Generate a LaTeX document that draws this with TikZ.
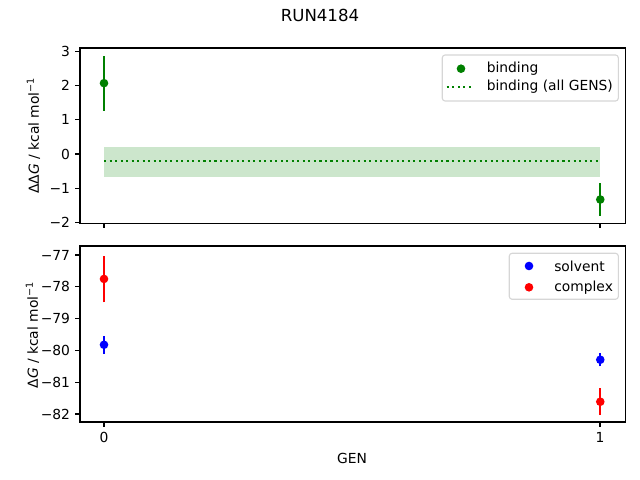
\documentclass[tikz,border=0pt]{standalone}
\usepackage{fontspec}
\setmainfont{DejaVu Sans}
\usetikzlibrary{positioning}
\definecolor{mplGreen}{HTML}{008000}
\definecolor{mplBlue}{HTML}{0000FF}
\definecolor{mplRed}{HTML}{FF0000}
\definecolor{bandGreen}{HTML}{CCE6CC}
\definecolor{legendEdge}{HTML}{D6D6D6}
\tikzset{
    axisFrame/.style={draw=black, line width=0.8bp},
    tickMark/.style={line width=0.8bp},
    tickLabel/.style={font=\fontsize{10}{12}\selectfont, inner sep=0pt},
    axisLabel/.style={font=\fontsize{10}{12}\selectfont, inner sep=0pt},
    titleText/.style={font=\fontsize{12}{14}\selectfont, inner sep=0pt},
    errBar/.style={line width=1.5bp},
    dataDot/.style={circle, inner sep=0pt, minimum size=6.2bp},
    allGens/.style={mplGreen, line width=1.5bp, dash pattern=on 1.5bp off 2.475bp},
    legendBox/.style={draw=legendEdge, fill=white, line width=0.8bp, rounded corners=2bp},
    legendText/.style={font=\fontsize{10}{12}\selectfont, anchor=west, inner sep=0pt},
}
\newcommand{\errPoint}[5]{
    \draw[errBar, #2] (#3,{#4-#5}) -- (#3,{#4+#5});
    \node[dataDot, fill=#2] (#1) at (#3,#4) {};
}
\newcommand{\yTick}[3]{
    \draw[tickMark] (80,#2) -- ++(-3.5bp,0bp);
    \node[tickLabel, anchor=east] (#1) at (70.3,#2) {#3};
}
\newcommand{\xTick}[2]{
    \draw[tickMark] (#1,#2) -- ++(0bp,-3.5bp);
}

\begin{document}
\begin{tikzpicture}[x=0.01in, y=-0.01in]
    \useasboundingbox (0,0) rectangle (640,480);

    \node[titleText] (title) at (320,15.5) {RUN4184};

    % upper panel
    \begin{scope}[shift={(104,154)}, x=4.96in, y=0.342in]
        \fill[bandGreen] (0,-0.66) rectangle (1,0.2);
        \draw[allGens] (0,-0.2) -- (1,-0.2);
        \errPoint{bindA}{mplGreen}{0}{2.07}{0.8}
        \errPoint{bindB}{mplGreen}{1}{-1.33}{0.47}
    \end{scope}
    \draw[axisFrame] (80,48) rectangle (625.5,223.3);
    \yTick{ytA}{51.4}{3}
    \yTick{ytB}{85.6}{2}
    \yTick{ytC}{119.8}{1}
    \yTick{ytD}{154}{0}
    \yTick{ytE}{188.2}{−1}
    \yTick{ytF}{222.4}{−2}
    \xTick{104}{223.3}
    \xTick{600}{223.3}
    \node[axisLabel, rotate=90] (yLabTop) at (33.5,135.5) {ΔΔ\textit{G} / kcal mol\textsuperscript{−1}};

    \draw[legendBox] (442.3,55) rectangle (618.3,101);
    \node[dataDot, fill=mplGreen] (legBind) at (461,68.7) {};
    \node[legendText] (legBindText) at (486.5,68.7) {binding};
    \coordinate (legLineA) at (446.7,86.7);
    \coordinate (legLineB) at (474.3,86.7);
    \draw[allGens] (legLineA) -- (legLineB);
    \node[legendText] (legAllText) at (486.5,86.7) {binding (all GENS)};

    % lower panel
    \begin{scope}[shift={(104,-2193.6)}, x=4.96in, y=0.318in]
        \errPoint{solvA}{mplBlue}{0}{-79.78}{0.28}
        \errPoint{cplxA}{mplRed}{0}{-77.71}{0.735}
        \errPoint{solvB}{mplBlue}{1}{-80.25}{0.21}
        \errPoint{cplxB}{mplRed}{1}{-81.57}{0.42}
    \end{scope}
    \draw[axisFrame] (80,246) rectangle (625.5,422);
    \yTick{ybA}{255}{−77}
    \yTick{ybB}{286.8}{−78}
    \yTick{ybC}{318.6}{−79}
    \yTick{ybD}{350.4}{−80}
    \yTick{ybE}{382.2}{−81}
    \yTick{ybF}{414}{−82}
    \xTick{104}{422}
    \xTick{600}{422}
    \node[tickLabel, anchor=north] (xtA) at (104,431.7) {0};
    \node[tickLabel, anchor=north] (xtB) at (600,431.7) {1};
    \node[axisLabel, rotate=90] (yLabBot) at (32.5,335) {Δ\textit{G} / kcal mol\textsuperscript{−1}};
    \node[axisLabel] (xLab) at (352,458) {GEN};

    \draw[legendBox] (509.3,253.3) rectangle (618.3,299.3);
    \node[dataDot, fill=mplBlue] (legSolv) at (529,266) {};
    \node[legendText] (legSolvText) at (554,266) {solvent};
    \node[dataDot, fill=mplRed] (legCplx) at (529,287.3) {};
    \node[legendText] (legCplxText) at (554,287.3) {complex};
\end{tikzpicture}
\end{document}
